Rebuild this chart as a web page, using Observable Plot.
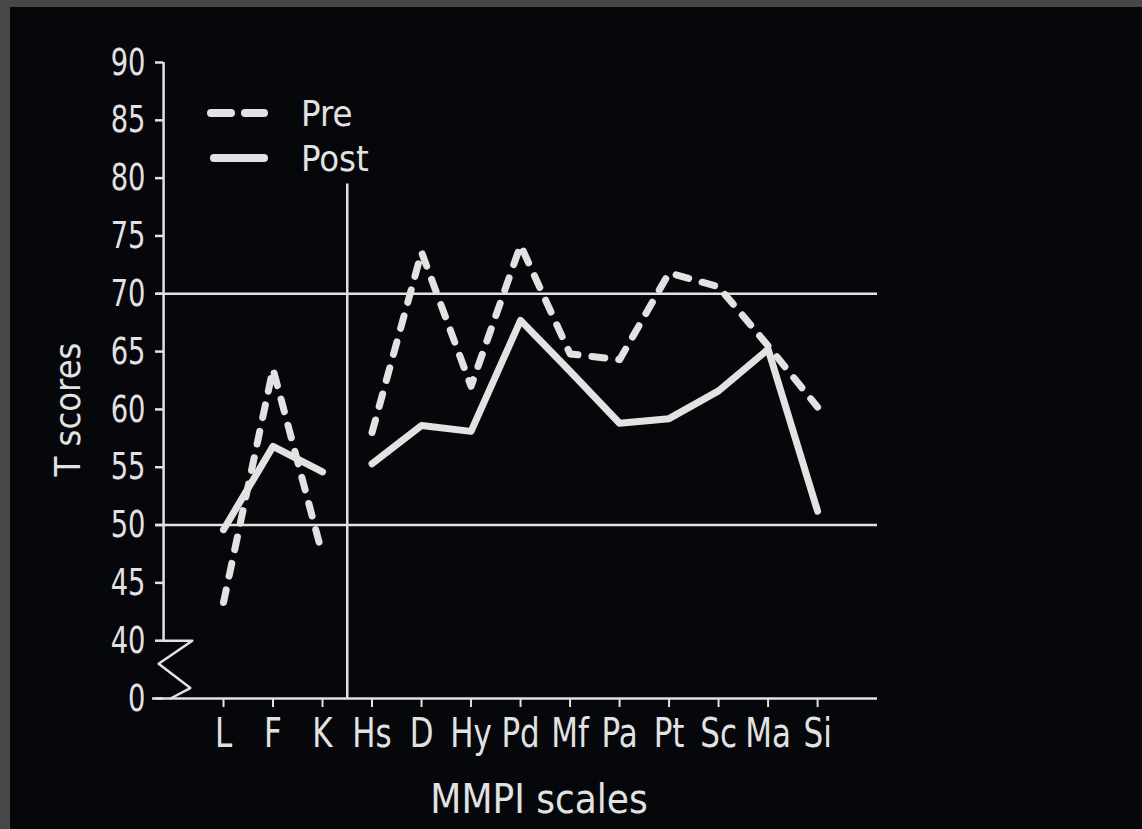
<!DOCTYPE html>
<html>
<head>
<meta charset="utf-8">
<script src="https://cdn.jsdelivr.net/npm/d3@7"></script>
<script src="https://cdn.jsdelivr.net/npm/@observablehq/plot@0.6"></script>
<style>
  html, body { margin: 0; padding: 0; background: #474747; width: 1142px; height: 829px; overflow: hidden; }
  #wrap { position: absolute; left: 10px; top: 7px; width: 1132px; height: 822px; background: #05070a; }
  #chart { position: absolute; left: 0; top: 0; }
  #legend { position: absolute; left: 0; top: 0; width: 400px; height: 200px; }
  text { font-family: "DejaVu Sans Condensed", "DejaVu Sans", sans-serif; font-stretch: condensed; }
</style>
</head>
<body>
<div id="wrap">
  <div id="chart"></div>
  <svg id="legend" width="400" height="200"></svg>
</div>
<script>
// ---- data ----
const categories = ["L", "F", "K", "Hs", "D", "Hy", "Pd", "Mf", "Pa", "Pt", "Sc", "Ma", "Si"];
const preScores  = [43.3, 63.5, 47.4, 58.0, 73.6, 62.0, 74.2, 64.8, 64.3, 71.8, 70.6, 65.5, 60.2];
const postScores = [49.6, 56.8, 54.6, 55.3, 58.6, 58.1, 67.7, 63.3, 58.8, 59.2, 61.6, 65.2, 51.2];
const seriesNames = ["Pre", "Post"];
const yTicks = [35, 40, 45, 50, 55, 60, 65, 70, 75, 80, 85, 90]; // 35 stands for the broken-axis "0"
const referenceLines = [50, 70];
const xLabel = "MMPI scales";
const yLabel = "T scores";

const ink = "#e2e2e2";
const FONT = '"DejaVu Sans Condensed", "DejaVu Sans", sans-serif';

function rows(values) {
  return categories.map((c, i) => ({i, c, v: values[i], seg: i < 3 ? "validity" : "clinical"}));
}
const preRows = rows(preScores);
const postRows = rows(postScores);

// axis break glyph (zig-zag between 40 and 0)
const breakGlyph = [
  {x: -1.21, y: 40}, {x: -0.63, y: 40}, {x: -1.31, y: 38.0}, {x: -0.67, y: 35.9}, {x: -1.07, y: 35}
];

const chart = Plot.plot({
  width: 1132,
  height: 822,
  marginLeft: 142,
  marginRight: 265,
  marginTop: 55,
  marginBottom: 131,
  style: {background: "transparent", color: ink, fontFamily: FONT, overflow: "visible"},
  x: {type: "linear", domain: [-1.434, 13.21], axis: null},
  y: {type: "linear", domain: [35, 90], axis: null},
  marks: [
    Plot.ruleY(referenceLines, {x1: -1.36, x2: 13.21, stroke: ink, strokeWidth: 2.5}),
    Plot.ruleY([35], {x1: -1.434, x2: 13.21, stroke: ink, strokeWidth: 2.5}),
    Plot.ruleX([-1.21], {y1: 40, y2: 90, stroke: ink, strokeWidth: 2.5}),
    Plot.ruleX([2.5], {y1: 35, y2: 79.5, stroke: ink, strokeWidth: 2.5}),
    Plot.line(breakGlyph, {x: "x", y: "y", stroke: ink, strokeWidth: 2.5, curve: "linear"}),
    Plot.axisY(yTicks, {
      anchor: "left", tickSize: 8, tickPadding: 10, dx: 11, fontSize: 38,
      tickFormat: d => d === 35 ? "0" : String(d), stroke: ink, strokeWidth: 2.5, fill: ink
    }),
    Plot.axisX(d3.range(categories.length), {
      anchor: "bottom", tickSize: 9, tickPadding: 11, fontSize: 40,
      tickFormat: i => categories[i], stroke: ink, strokeWidth: 2, fill: ink
    }),
    Plot.line(preRows, {
      x: "i", y: "v", z: "seg", stroke: ink, strokeWidth: 7,
      strokeDasharray: "13,14", strokeLinecap: "round", strokeLinejoin: "round"
    }),
    Plot.line(postRows, {
      x: "i", y: "v", z: "seg", stroke: ink, strokeWidth: 7,
      strokeLinecap: "round", strokeLinejoin: "round"
    }),
    Plot.text([yLabel], {frameAnchor: "left", textAnchor: "middle", lineAnchor: "middle", rotate: -90, dx: -84, dy: 29, fontSize: 36, fill: ink}),
    Plot.text([xLabel], {frameAnchor: "bottom", dx: 24, dy: 102, lineAnchor: "middle", fontSize: 40, fill: ink})
  ]
});
document.getElementById("chart").appendChild(chart);

// horizontally condense tick labels (the original lettering is tall and narrow)
function condense(selector, s) {
  chart.querySelectorAll(selector).forEach(t => {
    const w = t.getComputedTextLength();
    if (w > 0) {
      t.setAttribute("lengthAdjust", "spacingAndGlyphs");
      t.setAttribute("textLength", (w * s).toFixed(1));
    }
  });
}
condense('g[aria-label="y-axis tick label"] text', 0.8);
condense('g[aria-label="x-axis tick label"] text', 0.86);

// legend (inside plot area, top-left), coordinates relative to #wrap
const leg = d3.select("#legend");
const legendItems = [
  {name: seriesNames[0], dash: "20,14", x1: 201, y: 106},
  {name: seriesNames[1], dash: null, x1: 204, y: 151}
];
legendItems.forEach(it => {
  leg.append("line")
    .attr("x1", it.x1).attr("x2", 254).attr("y1", it.y).attr("y2", it.y)
    .attr("stroke", ink).attr("stroke-width", 8).attr("stroke-linecap", "round")
    .attr("stroke-dasharray", it.dash);
  leg.append("text")
    .attr("x", 291).attr("y", it.y).attr("dy", "0.36em")
    .attr("fill", ink).attr("font-size", 36)
    .text(it.name);
});
</script>
</body>
</html>
